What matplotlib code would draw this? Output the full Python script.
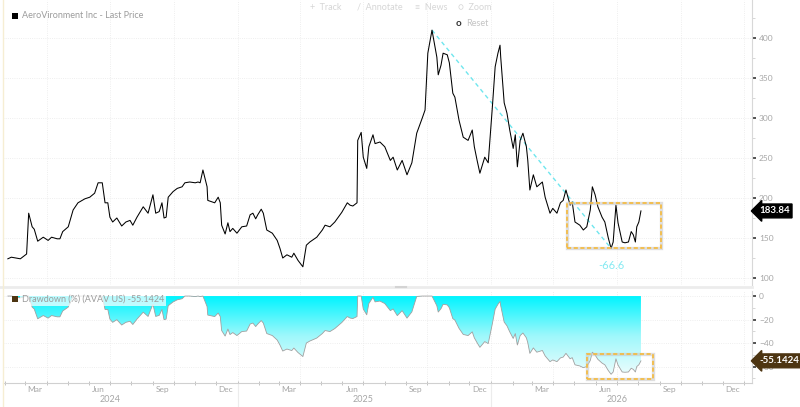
import numpy as np
import pandas as pd
import matplotlib.pyplot as plt
import matplotlib.dates as mdates
from matplotlib.colors import LinearSegmentedColormap
from matplotlib.patches import Rectangle
from matplotlib.lines import Line2D

plt.rcParams['font.family'] = ['Lato', 'DejaVu Sans']

# ----------------------------
# Data
# ----------------------------
price_dates = [
    "2024-02-05", "2024-02-10", "2024-02-23", "2024-03-03", "2024-03-06", "2024-03-11", "2024-03-14",
    "2024-03-19", "2024-03-27", "2024-04-03", "2024-04-08", "2024-04-16", "2024-04-20", "2024-04-24",
    "2024-05-02", "2024-05-09", "2024-05-16", "2024-05-26", "2024-06-02", "2024-06-09", "2024-06-14",
    "2024-06-20", "2024-06-24", "2024-06-28", "2024-07-01", "2024-07-05", "2024-07-11", "2024-07-18",
    "2024-07-24", "2024-07-30", "2024-08-03", "2024-08-09", "2024-08-18", "2024-08-25", "2024-09-01",
    "2024-09-05", "2024-09-10", "2024-09-14", "2024-09-17", "2024-09-20", "2024-09-23", "2024-09-30",
    "2024-10-06", "2024-10-13", "2024-10-17", "2024-10-24", "2024-11-01", "2024-11-05", "2024-11-08",
    "2024-11-12", "2024-11-18", "2024-11-19", "2024-11-29", "2024-12-04", "2024-12-07", "2024-12-09",
    "2024-12-14", "2024-12-18", "2024-12-21", "2024-12-25", "2024-12-31", "2025-01-07", "2025-01-14",
    "2025-01-19", "2025-01-23", "2025-01-27", "2025-01-30", "2025-02-04", "2025-02-07", "2025-02-12",
    "2025-02-20", "2025-02-27", "2025-03-03", "2025-03-07", "2025-03-13", "2025-03-20", "2025-03-23",
    "2025-03-29", "2025-04-05", "2025-04-10", "2025-04-15", "2025-04-25", "2025-05-03", "2025-05-07",
    "2025-05-14", "2025-05-21", "2025-05-26", "2025-05-31", "2025-06-08", "2025-06-12", "2025-06-16",
    "2025-06-22", "2025-06-23", "2025-06-28", "2025-07-01", "2025-07-06", "2025-07-09", "2025-07-15",
    "2025-07-18", "2025-07-25", "2025-08-01", "2025-08-09", "2025-08-13", "2025-08-19", "2025-08-26",
    "2025-09-02", "2025-09-09", "2025-09-16", "2025-09-24", "2025-09-28", "2025-10-02", "2025-10-08",
    "2025-10-11", "2025-10-15", "2025-10-17", "2025-10-21", "2025-10-24", "2025-10-30", "2025-11-02",
    "2025-11-07", "2025-11-10", "2025-11-16", "2025-11-22", "2025-11-29", "2025-12-05", "2025-12-08",
    "2025-12-12", "2025-12-16", "2025-12-23", "2025-12-28", "2026-01-03", "2026-01-07", "2026-01-11",
    "2026-01-14", "2026-01-15", "2026-01-20", "2026-01-24", "2026-01-28", "2026-02-02", "2026-02-05",
    "2026-02-08", "2026-02-12", "2026-02-16", "2026-02-21", "2026-02-23", "2026-02-26", "2026-03-03",
    "2026-03-08", "2026-03-16", "2026-03-20", "2026-03-27", "2026-03-31", "2026-04-06", "2026-04-11",
    "2026-04-15", "2026-04-19", "2026-04-25", "2026-04-28", "2026-05-02", "2026-05-09", "2026-05-14",
    "2026-05-19", "2026-05-24", "2026-05-27", "2026-05-31", "2026-06-04", "2026-06-10", "2026-06-14",
    "2026-06-19", "2026-06-23", "2026-06-26", "2026-06-30", "2026-07-03", "2026-07-09", "2026-07-13",
    "2026-07-18", "2026-07-22", "2026-07-25", "2026-07-28", "2026-07-30", "2026-08-02", "2026-08-05",
]
price_values = [
    124, 126, 124, 130, 181, 164, 161,
    146, 151, 147, 151, 149, 149, 158,
    164, 185, 194, 199, 201, 206, 219,
    219, 194, 194, 176, 170, 175, 165,
    170, 172, 166, 176, 189, 181, 204,
    181, 183, 194, 175, 176, 201, 208,
    212, 214, 219, 220, 219, 220, 219,
    235, 214, 197, 194, 201, 194, 166,
    155, 169, 158, 162, 156, 164, 165,
    179, 181, 174, 179, 186, 181, 160,
    156, 147, 137, 125, 129, 126, 131,
    122, 114, 141, 145, 151, 160, 166,
    164, 170, 176, 182, 194, 191, 190,
    194, 272, 282, 251, 237, 264, 279,
    268, 270, 264, 247, 251, 235, 247,
    229, 244, 281, 300, 310, 381, 409.83,
    395, 376, 354, 366, 381, 379, 369,
    331, 326, 297, 276, 272, 285, 264,
    247, 231, 251, 244, 314, 364, 381,
    391, 376, 319, 306, 285, 262, 279,
    239, 272, 281, 264, 247, 210, 229,
    214, 220, 201, 181, 187, 181, 194,
    197, 210, 191, 195, 170, 166, 160,
    164, 185, 214, 204, 189, 176, 170,
    150, 137, 145, 191, 169, 145, 144,
    145, 158, 154, 145, 164, 170, 183.84,
]

price_title = "AeroVironment Inc - Last Price"
dd_title = "Drawdown (%) (AVAV US) -55.1424"
last_price_label = "183.84"
last_dd_label = "-55.1424"
drop_label = "-66.6"

price_ticks = [100, 150, 200, 250, 300, 350, 400]
price_minor = [125, 175, 225, 275, 325, 375, 425]
dd_ticks = [0, -20, -40, -60]
dd_minor = [-10, -30, -50, -70]
label_months = [3, 6, 9, 12]
month_names = ["Mar", "Jun", "Sep", "Dec"]
years = [2024, 2025, 2026]

# highlighted zoom boxes (start, end, low, high)
price_box = ("2026-04-21", "2026-09-03", 137.5, 193.75)
dd_box = ("2026-05-19", "2026-08-22", -70.6, -49.4)

x_range = ("2024-01-29", "2027-01-12")

# ----------------------------
# Derived series
# ----------------------------
x = mdates.date2num(pd.to_datetime(price_dates))
p = np.array(price_values, dtype=float)
dd = (p / np.maximum.accumulate(p) - 1) * 100
i_peak = int(np.argmax(p))
i_trough = i_peak + int(np.argmin(p[i_peak:]))

xmin, xmax = mdates.date2num(pd.to_datetime(list(x_range)))

W, H = 800, 407
fig = plt.figure(figsize=(W / 100, H / 100), dpi=100)
ax = fig.add_axes([3 / W, 1 - 285 / H, 749 / W, 285 / H])
ax2 = fig.add_axes([3 / W, 1 - 383 / H, 749 / W, 92 / H])

grid_c = "#e9e9e9"
label_c = "#a6a6a6"
quarter_starts = mdates.date2num(pd.date_range("2024-01-01", "2027-01-01", freq="QS"))

for a in (ax, ax2):
    a.set_xlim(xmin, xmax)
    for s in ("top", "left", "bottom"):
        a.spines[s].set_visible(False)
    a.spines["right"].set_color("#d8d8d8")
    a.yaxis.tick_right()
    a.tick_params(axis="y", which="major", length=3, width=1.3, color="#444444",
                  labelcolor=label_c, labelsize=6, pad=2)
    a.tick_params(axis="y", which="minor", length=2, width=0.6, color="#d0d0d0")
    for q in quarter_starts:
        a.axvline(q, color=grid_c, lw=0.6, ls=":", zorder=0)

# ----------------------------
# Price panel
# ----------------------------
ax.set_ylim(91.25, 447.5)
ax.set_yticks(price_ticks)
ax.set_yticks(price_minor, minor=True)
ax.tick_params(axis="x", bottom=False, labelbottom=False)
for t in price_ticks:
    ax.axhline(t, color=grid_c, lw=0.6, ls=":", zorder=0)

ax.plot(x, p, color="black", lw=0.75, zorder=3)

# peak-to-trough line
ax.plot([x[i_peak], x[i_trough]], [p[i_peak], p[i_trough]], ls=(0, (3, 2.5)),
        color="#6fe6ee", lw=1, zorder=2)
ax.annotate(drop_label, xy=(x[i_trough], p[i_trough]), xytext=(0, -8),
            textcoords="offset points", ha="center", va="top", color="#86eaf2", fontsize=8)

bx0, bx1 = mdates.date2num(pd.to_datetime([price_box[0], price_box[1]]))
ax.add_patch(Rectangle((bx0, price_box[2]), bx1 - bx0, price_box[3] - price_box[2],
                       fill=False, ec="#c8c8c8", lw=2.4, alpha=0.6, zorder=4))
ax.add_patch(Rectangle((bx0, price_box[2]), bx1 - bx0, price_box[3] - price_box[2],
                       fill=False, ec="#f6b93a", lw=1.2, ls=(0, (2.5, 1.5)), zorder=5))

ax.annotate(last_price_label, xy=(1, p[-1]), xycoords=("axes fraction", "data"),
            xytext=(5, 0), textcoords="offset points", ha="left", va="center",
            fontsize=7, fontweight="bold", color="white", annotation_clip=False,
            bbox=dict(boxstyle="larrow,pad=0.25", fc="black", ec="black"))

# ----------------------------
# Drawdown panel
# ----------------------------
ax2.set_ylim(-74, 4.3)
ax2.set_yticks(dd_ticks)
ax2.set_yticks(dd_minor, minor=True)
for t in dd_ticks:
    ax2.axhline(t, color=grid_c, lw=0.6, ls=":", zorder=0)

poly = ax2.fill_between(x, dd, 0, color="none", lw=0)
cmap = LinearSegmentedColormap.from_list("dd", ["#eefdfd", "#9ff8fb", "#00f4ff"])
grad = np.linspace(0, 1, 256).reshape(-1, 1)
im = ax2.imshow(grad, cmap=cmap, aspect="auto", origin="lower",
                extent=[x[0], x[-1], -68, 0], zorder=1)
im.set_clip_path(poly.get_paths()[0], transform=ax2.transData)
ax2.plot(x, dd, color="#a0a0a0", lw=0.6, zorder=2)
ax2.set_xlim(xmin, xmax)
ax2.set_ylim(-74, 4.3)

dx0, dx1 = mdates.date2num(pd.to_datetime([dd_box[0], dd_box[1]]))
ax2.add_patch(Rectangle((dx0, dd_box[2]), dx1 - dx0, dd_box[3] - dd_box[2],
                        fill=False, ec="#c8c8c8", lw=2.4, alpha=0.6, zorder=4))
ax2.add_patch(Rectangle((dx0, dd_box[2]), dx1 - dx0, dd_box[3] - dd_box[2],
                        fill=False, ec="#f6b93a", lw=1.2, ls=(0, (2.5, 1.5)), zorder=5))

ax2.annotate(last_dd_label, xy=(1, dd[-1]), xycoords=("axes fraction", "data"),
             xytext=(5, 0), textcoords="offset points", ha="left", va="center",
             fontsize=7, fontweight="bold", color="white", annotation_clip=False,
             bbox=dict(boxstyle="larrow,pad=0.25", fc="#4d3512", ec="#4d3512"))

# x axis: month labels mid-month, ticks at month starts
ax2.spines["bottom"].set_visible(True)
ax2.spines["bottom"].set_color("#d0d0d0")
label_pos = mdates.date2num([pd.Timestamp(y, m, 15) for y in years for m in label_months])
ax2.set_xticks(label_pos)
ax2.set_xticklabels(month_names * len(years))
ax2.set_xticks(mdates.date2num(pd.date_range("2024-02-01", "2027-01-01", freq="MS")), minor=True)
ax2.tick_params(axis="x", which="major", length=0, labelsize=6, labelcolor=label_c, pad=2.5)
ax2.tick_params(axis="x", which="minor", length=2.5, width=0.6, color="#b8b8b8", direction="inout")
for y in years:
    ax2.annotate(str(y), xy=(mdates.date2num(pd.Timestamp(y, 7, 1)), 0),
                 xycoords=("data", "axes fraction"), xytext=(0, -9), textcoords="offset points",
                 ha="center", va="top", fontsize=6.5, color=label_c, annotation_clip=False)
for y in years[1:]:
    xs = mdates.date2num(pd.Timestamp(y, 1, 1))
    ax2.add_line(Line2D([xs, xs], [0, -0.28], transform=ax2.get_xaxis_transform(),
                        color="#ececec", lw=0.8, clip_on=False))

# ----------------------------
# Legends, frame and toolbar
# ----------------------------
fig.add_artist(Rectangle((12 / W, 1 - 19 / H), 6 / W, 6 / H, transform=fig.transFigure,
                         fc="black", ec="none"))
fig.text(22 / W, 1 - 16 / H, price_title, fontsize=6.5, color="#9c9c9c", va="center")

fig.add_artist(Rectangle((12 / W, 1 - 302 / H), 6 / W, 6 / H, transform=fig.transFigure,
                         fc="#4d3512", ec="none", zorder=6))
fig.text(22 / W, 1 - 299 / H, dd_title, fontsize=6.5, color="#9c9c9c", va="center", zorder=6,
         bbox=dict(fc="white", ec="none", alpha=0.72, pad=1.5))

fig.add_artist(Line2D([0, 752 / W], [1 - 286.5 / H] * 2, transform=fig.transFigure,
                      color="#ececec", lw=2))
fig.add_artist(Line2D([396 / W, 406 / W], [1 - 286.5 / H] * 2, transform=fig.transFigure,
                      color="#d4d4d4", lw=1.5))
fig.add_artist(Line2D([3 / W, 3 / W], [0, 1], transform=fig.transFigure, color="#f6eed3", lw=1))

tool_c = "#d6d6d6"
fig.text(310 / W, 1 - 7 / H, "+  Track", fontsize=6.5, color=tool_c, va="center")
fig.text(357 / W, 1 - 7 / H, "/  Annotate", fontsize=6.5, color=tool_c, va="center")
fig.text(415 / W, 1 - 7 / H, "≡  News", fontsize=6.5, color=tool_c, va="center")
fig.text(458 / W, 1 - 7 / H, "○  Zoom", fontsize=6.5, color=tool_c, va="center")
fig.text(456 / W, 1 - 23 / H, "o", fontsize=7, color="#333333", va="center", fontweight="bold")
fig.text(466 / W, 1 - 23 / H, "Reset", fontsize=6.5, color="#c4c4c4", va="center")

plt.savefig("out.png", dpi=100)
